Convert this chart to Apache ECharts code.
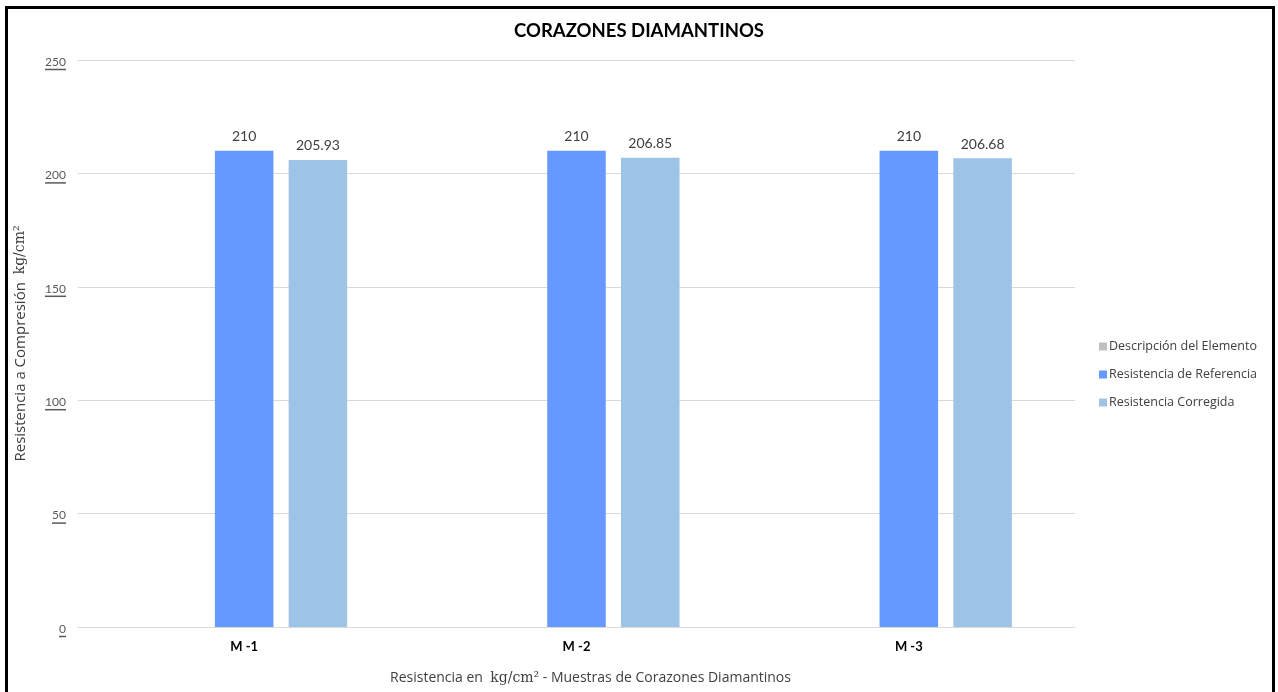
<!DOCTYPE html>
<html>
<head>
<meta charset="utf-8">
<script src="https://cdn.jsdelivr.net/npm/echarts@6/dist/echarts.min.js"></script>
<style>
  html, body { margin: 0; padding: 0; background: #fff; }
  #frame { position: absolute; left: 5px; top: 6px; width: 1264px; height: 700px;
           border-left: 3px solid #000; border-top: 3px solid #000; border-right: 3px solid #000; }
  #chart { position: absolute; left: 0; top: 0; width: 1278px; height: 692px; }
</style>
</head>
<body>
<div id="frame"></div>
<div id="chart"></div>
<script>
// Samples and compressive strength values (kg/cm²)
const categories = ['M -1', 'M -2', 'M -3'];
const seriesNames = ['Descripción del Elemento', 'Resistencia de Referencia', 'Resistencia Corregida'];
const descripcion = [null, null, null];
const referencia = [210, 210, 210];
const corregida = [205.93, 206.85, 206.68];
const yTicks = [0, 50, 100, 150, 200, 250];

const colors = ['#BFBFBF', '#6699FF', '#9DC3E6'];
const font = '"Open Sans", Lato, sans-serif';

const chart = echarts.init(document.getElementById('chart'));
const labelStyle = {
  show: true, position: 'top', distance: 7,
  color: '#404040', fontSize: 14, fontFamily: 'Lato, sans-serif',
  formatter: p => p.value == null ? '' : String(p.value)
};

// underline bar under each y tick label, width set by digit count
const ulRich = { n: { color: '#595959', fontSize: 12, fontFamily: 'Lato, sans-serif', align: 'right', lineHeight: 13 } };
[1, 2, 3].forEach(k => {
  ulRich['u' + k] = { width: 7 * k, height: 1.5, lineHeight: 2, fontSize: 1, backgroundColor: '#595959', align: 'right' };
});

chart.setOption({
  animation: false,
  color: colors,
  title: {
    text: 'CORAZONES DIAMANTINOS',
    left: 'center', top: 17,
    textStyle: { fontFamily: 'Lato, sans-serif', fontWeight: 'bold', fontSize: 18.5, color: '#000' }
  },
  legend: {
    orient: 'vertical', left: 1094, top: 335,
    itemWidth: 8, itemHeight: 8, itemGap: 15,
    icon: 'rect',
    textStyle: { fontFamily: font, fontSize: 12.5, color: '#404040', padding: [0, 0, 0, -3] },
    data: seriesNames
  },
  grid: { left: 78, right: 203, top: 60, bottom: 65 },
  xAxis: {
    type: 'category', data: categories,
    axisTick: { show: false },
    axisLine: { lineStyle: { color: '#D9D9D9' } },
    axisLabel: { color: '#000', fontWeight: 'bold', fontSize: 13, fontFamily: 'Lato, sans-serif', margin: 13 },
    name: '{t|Resistencia en  }{u|kg/cm²}{t| - Muestras de Corazones Diamantinos}',
    nameLocation: 'middle', nameGap: 44,
    nameTextStyle: {
      rich: {
        t: { fontFamily: font, fontSize: 14, color: '#404040' },
        u: { fontFamily: '"DejaVu Serif", serif', fontSize: 14, color: '#404040' }
      },
      padding: [0, 0, 0, 28]
    }
  },
  yAxis: {
    type: 'value', min: 0, max: 250, interval: 50,
    axisLabel: {
      margin: 12,
      padding: [6, 0, 0, 0],
      formatter: v => yTicks.includes(v) ? '{n|' + v + '}\n{u' + String(v).length + '| }' : '',
      rich: ulRich
    },
    splitLine: { lineStyle: { color: '#D9D9D9' } },
    name: '{t|Resistencia a Compresión  }{u|kg/cm²}',
    nameLocation: 'middle', nameGap: 50,
    nameTextStyle: {
      rich: {
        t: { fontFamily: font, fontSize: 15, color: '#404040' },
        u: { fontFamily: '"DejaVu Serif", serif', fontSize: 14, color: '#404040' }
      }
    }
  },
  series: [
    { name: seriesNames[0], type: 'bar', data: descripcion, barGap: '26%', barCategoryGap: '38%', label: labelStyle },
    { name: seriesNames[1], type: 'bar', data: referencia, barGap: '26%', barCategoryGap: '38%', label: labelStyle },
    { name: seriesNames[2], type: 'bar', data: corregida, barGap: '26%', barCategoryGap: '38%', label: labelStyle }
  ]
});
</script>
</body>
</html>
